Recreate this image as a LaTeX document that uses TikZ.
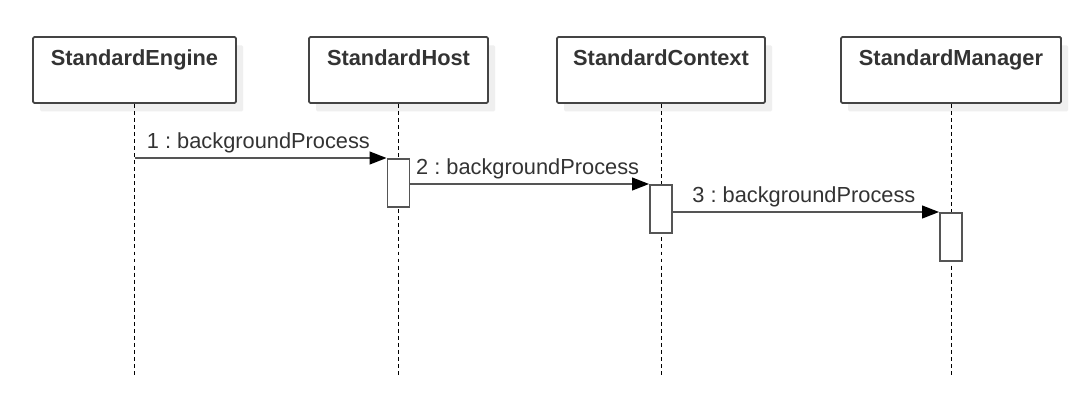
\documentclass[tikz,border=0pt]{standalone}
\usepackage{fontspec}
\setmainfont{Liberation Sans}
\usetikzlibrary{arrows.meta,shadows}
\frenchspacing
\definecolor{linegray}{HTML}{555555}
\definecolor{boxgray}{HTML}{444444}
\definecolor{textgray}{HTML}{333333}
\definecolor{shadowgray}{HTML}{EFEFEF}
\tikzset{
    % --- styles ---
    head_box/.style={draw=boxgray, line width=1.3pt, fill=white, rounded corners=1pt,
                     minimum width=#1, inner ysep=0pt, text height=0.72cm, text depth=0.93cm,
                     anchor=north, text=textgray, font=\fontsize{15.5}{18}\selectfont\bfseries,
                     drop shadow={shadow xshift=5pt, shadow yshift=-6pt, fill=shadowgray, opacity=1}},
    act_box/.style={draw=linegray, line width=1.3pt, fill=white, minimum width=0.55cm,
                    minimum height=1.2cm, inner sep=0pt, anchor=north},
    life_line/.style={draw=black, line width=0.7pt, dash pattern=on 2.8pt off 2.2pt},
    msg/.style={draw=linegray, line width=1.3pt,
                -{Triangle[length=12pt, width=9pt, color=black]}},
    msg_label/.style={midway, anchor=base, yshift=7pt, xshift=-1.5pt, text=textgray,
                      font=\fontsize{15.5}{18}\selectfont}
}

\begin{document}
\begin{tikzpicture}[x=0.025cm, y=-0.025cm]
    \useasboundingbox[fill=white] (0,0) rectangle (1079,404);

    % heads
    \node[head_box=5.075cm] (eng)  at (134.5,36) {StandardEngine};
    \node[head_box=4.475cm] (host) at (398.5,36) {StandardHost};
    \node[head_box=5.2cm]   (ctx)  at (661,36)   {StandardContext};
    \node[head_box=5.5cm]   (mgr)  at (951,36)   {StandardManager};

    % lifelines
    \foreach \n in {eng,host,ctx,mgr}{
        \coordinate (\n_end) at (\n.south |- 0,378);
        \draw[life_line] (\n.south) -- (\n_end);
    }

    % activations
    \node[act_box] (host_act) at (host.south |- 0,158) {};
    \node[act_box] (ctx_act)  at (ctx.south |- 0,184)  {};
    \node[act_box] (mgr_act)  at (mgr.south |- 0,212)  {};

    % messages
    \coordinate (eng_out) at (eng.south |- host_act.north);
    \draw[msg] (eng_out) -- node[msg_label] {1 : backgroundProcess} (host_act.north west);
    \draw[msg] (host_act.east |- ctx_act.north) -- node[msg_label] {2 : backgroundProcess} (ctx_act.north west);
    \draw[msg] (ctx_act.east |- mgr_act.north) -- node[msg_label] {3 : backgroundProcess} (mgr_act.north west);
\end{tikzpicture}
\end{document}
